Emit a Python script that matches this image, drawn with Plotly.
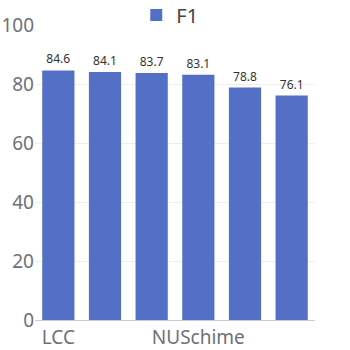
import plotly.graph_objects as go

categories = ["LCC", "c2", "c3", "NUSchime", "c5", "c6"]
tick_labels = ["LCC", "", "", "NUSchime", "", ""]
f1_values = [84.6, 84.1, 83.7, 83.1, 78.8, 76.1]
y_ticks = [0, 20, 40, 60, 80, 100]

fig = go.Figure()
fig.add_trace(go.Bar(
    x=categories,
    y=f1_values,
    name="F1",
    marker=dict(color="#5470c6", line=dict(width=0)),
    text=[f"{v:.1f}" for v in f1_values],
    textposition="outside",
    textfont=dict(size=12, color="#333333", family="Noto Sans"),
    cliponaxis=False,
))

fig.update_layout(
    width=350, height=350,
    margin=dict(l=35, r=35, t=25, b=30, autoexpand=False),
    paper_bgcolor="white", plot_bgcolor="white",
    bargap=0.31,
    font=dict(family="Noto Sans", color="#6e7079"),
    showlegend=True,
    legend=dict(orientation="h", x=0.485, xanchor="center", xref="container",
                y=1.10, yanchor="top", yref="paper",
                font=dict(size=20, color="#444444"), itemwidth=30,
                bgcolor="rgba(0,0,0,0)", borderwidth=0),
    xaxis=dict(
        tickmode="array", tickvals=categories, ticktext=tick_labels,
        tickfont=dict(size=19, color="#6e7079"),
        showline=True, linecolor="#c8ccd4", linewidth=1,
        showgrid=False, ticks="", automargin=False,
    ),
    yaxis=dict(
        range=[0, 100], tickvals=y_ticks,
        tickfont=dict(size=19, color="#6e7079"),
        showgrid=True, gridcolor="#eeeeee", gridwidth=1,
        zeroline=False, showline=False, ticks="", automargin=False,
    ),
)

fig.write_html("out.html")
